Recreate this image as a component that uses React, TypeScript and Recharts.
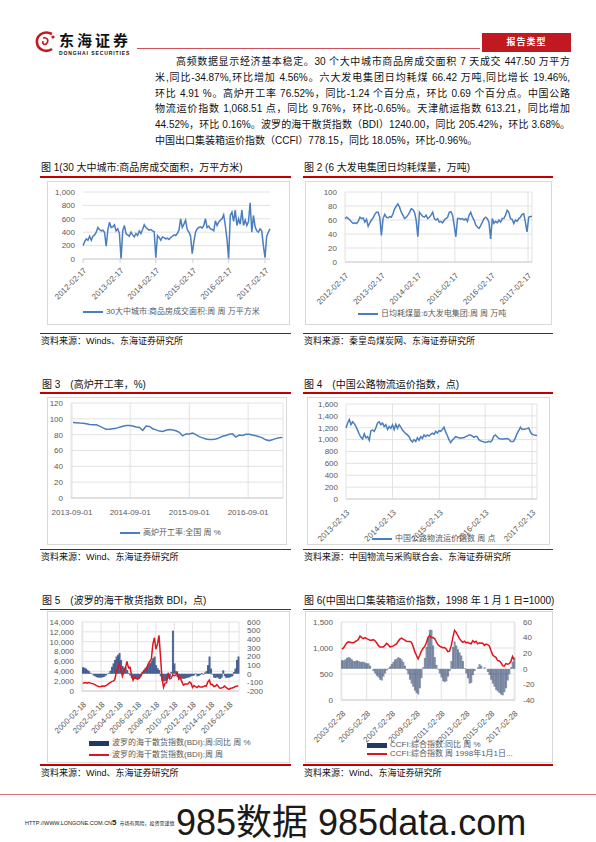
import React from 'react';
import { LineChart, Line, ComposedChart, Bar, XAxis, YAxis, CartesianGrid } from 'recharts';

const FONT = '"Liberation Sans", "Noto Sans CJK SC", sans-serif';
const AXIS_GRAY = '#595959';
const GRID = '#e2e2e2';
const BLUE = '#4a7ebf';
const RED = '#c00000';
const LINE_RED = '#e0141e';
const NAVY = '#203864';

// 图1 30大中城市商品房成交面积（万平方米），约每2.5周取一点
const houseTicks = [0, 22.4, 44, 66.4, 88, 110];
const houseTickLabels = ['2012-02-17', '2013-02-17', '2014-02-17', '2015-02-17', '2016-02-17', '2017-02-17'];
const houseArea = [
  200, 260, 300, 280, 340, 280, 340, 360, 400, 470, 440, 420, 430, 400, 190, 430, 550, 470, 480, 510,
  420, 450, 380, 0, 420, 500, 380, 360, 340, 400, 360, 330, 380, 350, 420, 380, 440, 510, 470, 450,
  430, 440, 420, 410, 20, 350, 320, 280, 330, 320, 300, 310, 290, 320, 340, 360, 350, 380, 430, 600,
  470, 520, 580, 440, 400, 340, 80, 260, 400, 450, 470, 480, 460, 500, 600, 470, 490, 450, 440, 420,
  570, 500, 550, 580, 600, 660, 500, 300, 0, 650, 700, 560, 730, 500, 600, 520, 730, 500, 580, 500,
  560, 840, 400, 650, 480, 420, 400, 450, 420, 200, 20, 340, 400, 450,
];

// 图2 6大发电集团日均耗煤量（万吨）
const coalTicks = [0, 22, 44, 66.4, 88.4, 110.6];
const coalTickLabels = houseTickLabels;
const coalUse = [
  62, 64, 62, 60, 57, 55, 56, 55, 58, 64, 62, 63, 57, 61, 51, 56, 60, 63, 68, 71,
  71, 64, 38, 62, 68, 64, 63, 65, 64, 69, 76, 80, 83, 78, 71, 67, 62, 64, 67, 71,
  76, 75, 71, 60, 36, 71, 68, 65, 64, 67, 62, 64, 67, 71, 62, 60, 62, 57, 58, 56,
  60, 62, 64, 71, 72, 67, 52, 36, 62, 62, 61, 62, 60, 62, 58, 67, 71, 64, 60, 53,
  50, 48, 52, 57, 62, 64, 62, 57, 33, 62, 55, 58, 56, 60, 57, 62, 62, 67, 74, 71,
  62, 61, 55, 60, 58, 62, 64, 68, 69, 57, 43, 64, 65, 65,
];

// 图3 高炉开工率（%）
const furnaceTicks = [-0.3, 17.2, 35, 52.7];
const furnaceTickLabels = ['2013-09-01', '2014-09-01', '2015-09-01', '2016-09-01'];
const furnaceRate = [
  95.4, 95.2, 94.8, 94.5, 93.8, 92.8, 92.5, 92.5, 90.8, 88.5, 87, 87, 87.5, 88, 89.5, 90.5,
  91.5, 91.5, 91, 89.8, 89, 85.5, 91, 90.5, 87.5, 86, 84.5, 84, 85.5, 86.5, 86, 85,
  83, 78.5, 81, 81, 82, 80, 77.5, 76, 74.5, 74, 74, 74.5, 76, 78, 79, 80.5,
  81, 77, 79.5, 79, 80.5, 80.5, 79.5, 78.5, 77.5, 76, 73.5, 72.5, 73.5, 75, 76, 76.5,
];

// 图4 中国公路物流运价指数（点）
const truckTicks = [0, 28, 56.2, 83.8, 112];
const truckTickLabels = ['2013-02-13', '2014-02-13', '2015-02-13', '2016-02-13', '2017-02-13'];
const truckIndex = [
  1196, 1280, 1340, 1252, 1300, 1270, 1220, 1160, 1090, 1040, 1010, 1100, 1030, 1050, 990, 1150,
  1160, 1140, 1200, 1280, 1300, 1250, 1280, 1220, 1250, 1170, 1220, 1190, 1250, 1170, 1260, 1190,
  1250, 1210, 1160, 1130, 1100, 1080, 1050, 990, 960, 1000, 970, 1030, 990, 1050, 1020, 1080,
  1050, 1080, 1060, 1090, 1110, 1090, 1140, 1110, 1150, 1140, 1170, 1210, 1130, 1070, 1000, 950,
  990, 1020, 1050, 1040, 1030, 1025, 1030, 1030, 1050, 1060, 1080, 1080, 1060, 1040, 1055, 1050,
  1000, 980, 970, 960, 955, 960, 970, 960, 990, 1060, 1080, 1050, 1020, 1010, 1010, 1010,
  1015, 1020, 1010, 975, 965, 975, 1030, 1100, 1150, 1210, 1170, 1175, 1180, 1185, 1195, 1130,
  1090, 1080, 1075, 1068,
];

// 图5 BDI，双月取点 2000-02 ~ 2017-02
const bdiTicks = [0, 12, 24, 36, 48, 60, 72, 84, 96];
const bdiTickLabels = ['2000-02-18', '2002-02-18', '2004-02-18', '2006-02-18', '2008-02-18', '2010-02-18', '2012-02-18', '2014-02-18', '2016-02-18'];
const bdiLevel = [
  1550, 1650, 1650, 1600, 1700, 1600, 1500, 1450, 1300, 1100, 950, 880,
  900, 1000, 950, 1050, 1250, 1500, 1700, 1900, 2000, 2300, 3800, 4700,
  5600, 4300, 3000, 4000, 4700, 6000, 4700, 4800, 3200, 2200, 2800, 2500,
  2400, 2600, 3000, 3600, 4000, 4300, 4600, 5500, 6000, 6500, 9500, 10800,
  8500, 9500, 11300, 7000, 2500, 750, 1600, 1700, 3700, 2500, 2600, 3300,
  3100, 3200, 3700, 2400, 2700, 1900, 1200, 1400, 1400, 1400, 1800, 1600,
  700, 1100, 900, 700, 1000, 800, 800, 850, 1050, 1000, 1800, 2200,
  1300, 1300, 900, 1000, 1300, 900, 550, 600, 750, 1000, 750, 500,
  320, 550, 600, 700, 900, 950, 1100,
];
const bdiYoy = [
  75, 70, 60, 45, 30, 10, -5, -20, -30, -40, -45, -45,
  -45, -40, -35, -20, -5, 10, 35, 80, 120, 160, 200, 220,
  240, 160, 90, 70, 75, 45, 10, -20, -50, -65, -60, -60,
  -60, -50, -30, 20, 45, 70, 85, 104, 123, 150, 180, 200,
  100, 65, 45, -30, -80, -90, -85, -75, -55, -40, 20, 500,
  120, 30, -40, -50, -50, -55, -60, -55, -50, -45, -40, -30,
  -25, -20, 5, -30, -25, -15, 10, -10, 15, 30, 100, 200,
  60, -10, -45, -50, -40, -55, -60, -45, 40, -30, -50, -45,
  -45, -35, -30, 20, 60, 160, 200,
];

// 图6 CCFI，约每7周取点 2003-02 ~ 2017-02
const ccfiTicks = [0, 15, 30, 45, 60, 75, 90, 104];
const ccfiTickLabels = ['2003-02-28', '2005-02-28', '2007-02-28', '2009-02-28', '2011-02-28', '2013-02-28', '2015-02-28', '2017-02-28'];
const ccfiLevel = [
  979, 1000, 1050, 1100, 1120, 1110, 1100, 1100, 1120, 1140, 1165, 1230, 1200, 1180, 1200,
  1180, 1165, 1150, 1150, 1160, 1140, 1100, 1050, 1020, 1018, 1018, 1050, 1090, 1060, 1020,
  1030, 1040, 1060, 1080, 1130, 1170, 1190, 1170, 1150, 1130, 1127, 1127, 1110, 1030, 930,
  860, 790, 860, 940, 990, 1030, 1100, 1200, 1240, 1200, 1200, 1180, 1120, 1060, 1035,
  1020, 1005, 1010, 980, 930, 940, 1040, 1200, 1340, 1300, 1240, 1180, 1140, 1110, 1130,
  1100, 1110, 1090, 1080, 1140, 1110, 1130, 1080, 1100, 1090, 1095, 1050, 1075, 1065, 1040,
  950, 870, 840, 820, 760, 750, 720, 660, 650, 700, 690, 700, 740, 840, 780,
];
const ccfiYoy = [
  11, 11, 12, 14, 15, 14, 12, 10, 10, 11, 10, 9, 9, 9, 8,
  7, 7, 4, 0, -3, -6, -9, -11, -14, -15, -10, -6, -2, 1, 3,
  6, 9, 12, 13, 15, 14, 12, 9, 4, -2, -7, -14, -19, -23, -28,
  -31, -33, -25, -12, 2, 14, 28, 40, 50, 50, 30, 15, 5, -1, -6,
  -11, -16, -17, -16, -10, -3, 10, 28, 35, 30, 25, 21, 17, 10, 1,
  -6, -12, -19, -18, -8, -3, 0, 2, 6, 4, 0, 2, 0, -4, -8,
  -14, -19, -23, -27, -29, -31, -33, -34, -30, -25, -15, -7, 2, 9, 14,
];

const textLines = [
  '高频数据显示经济基本稳定。30 个大中城市商品房成交面积 7 天成交 447.50 万平方',
  '米,同比-34.87%,环比增加 4.56%。六大发电集团日均耗煤 66.42 万吨,同比增长 19.46%,',
  '环比 4.91 %。高炉开工率 76.52%，同比-1.24 个百分点，环比 0.69 个百分点。中国公路',
  '物流运价指数 1,068.51 点，同比 9.76%，环比-0.65%。天津航运指数 613.21，同比增加',
  '44.52%，环比 0.16%。波罗的海干散货指数（BDI）1240.00，同比 205.42%，环比 3.68%。',
  '中国出口集装箱运价指数（CCFI）778.15，同比 18.05%，环比-0.96%。',
];

const toRows = (vals: number[]) => vals.map((v, i) => ({ i, v }));
const fmt = (v: number) => v.toLocaleString('en-US');

const makeTick = (ticks: number[], labels: string[], rotate: boolean) => (props: any) => {
  const { x, y, payload } = props;
  const k = ticks.indexOf(payload.value);
  const label = k >= 0 ? labels[k] : '';
  if (!rotate) {
    return (
      <text x={x} y={y + 9} textAnchor="middle" fontSize={8} fill={AXIS_GRAY} fontFamily={FONT}>
        {label}
      </text>
    );
  }
  return (
    <text
      transform={`translate(${x + 2},${y + 4}) rotate(-45)`}
      textAnchor="end"
      dy="0.35em"
      fontSize={8}
      fill={AXIS_GRAY}
      fontFamily={FONT}
    >
      {label}
    </text>
  );
};

const abs = (left: number, top: number, extra: React.CSSProperties = {}): React.CSSProperties => ({
  position: 'absolute',
  left,
  top,
  ...extra,
});

const Frame = ({ left, top, width, height }: any) => (
  <div style={abs(left, top, { width, height, border: '1px solid #d9d9d9', boxSizing: 'border-box' })} />
);

const Rule = ({ left, top, width }: any) => (
  <div style={abs(left, top, { width, height: 1.5, background: RED })} />
);

const Caption = ({ left, top, children, size = 10 }: any) => (
  <div style={abs(left, top, { fontSize: size, lineHeight: '12px', color: '#111', whiteSpace: 'nowrap', fontFamily: FONT })}>
    {children}
  </div>
);

const LegendItem = ({ left, top, kind, color, label }: any) => (
  <div style={abs(left, top, { display: 'flex', alignItems: 'center', height: 10, whiteSpace: 'nowrap' })}>
    {kind === 'line' ? (
      <div style={{ width: 20, height: 2, background: color }} />
    ) : (
      <div style={{ width: 20, height: 5, background: color }} />
    )}
    <span style={{ marginLeft: 3, fontSize: 8, color: AXIS_GRAY, fontFamily: FONT, lineHeight: '10px' }}>{label}</span>
  </div>
);

const axisTick = { fontSize: 8, fill: AXIS_GRAY, fontFamily: FONT };

const App = () => {
  const houseData = toRows(houseArea);
  const coalData = toRows(coalUse);
  const furnaceData = toRows(furnaceRate);
  const truckData = toRows(truckIndex);
  const bdiData = bdiLevel.map((v, i) => ({ i, level: v, yoy: bdiYoy[i] }));
  const ccfiData = ccfiLevel.map((v, i) => ({ i, level: v, yoy: ccfiYoy[i] }));

  return (
    <div style={abs(0, 0, { width: 596, height: 842, background: '#fff', fontFamily: FONT, overflow: 'hidden' })}>
      {/* header */}
      <svg style={abs(34, 31)} width={24} height={22} viewBox="0 0 24 22">
        <path d="M18 3 C10 -1 2 4 3 12 C4 19 12 22 18 18" fill="none" stroke="#c8161d" strokeWidth={2.6} />
        <path d="M9 7 C13 6 15 9 13 12 C11 15 8 13 9 10" fill="none" stroke="#c8161d" strokeWidth={1.6} />
        <circle cx={19} cy={6} r={1.6} fill="#c8161d" />
      </svg>
      <div style={abs(59, 33, { fontSize: 15, fontWeight: 700, letterSpacing: 3, lineHeight: '15px', color: '#111' })}>东海证券</div>
      <div style={abs(59, 50, { fontSize: 5, fontWeight: 700, letterSpacing: 0.9, lineHeight: '6px', color: '#111' })}>DONGHAI SECURITIES</div>
      <div style={abs(137, 48, { width: 343, height: 1, background: '#d0505a' })} />
      <div
        style={abs(482, 33, {
          width: 89,
          height: 19,
          background: '#c01920',
          color: '#fff',
          fontSize: 9,
          fontWeight: 700,
          textAlign: 'center',
          lineHeight: '19px',
          letterSpacing: 1,
        })}
      >
        报告类型
      </div>

      {/* paragraph */}
      {textLines.map((t, k) => (
        <div
          key={k}
          style={abs(k === 0 ? 176 : 155, 54 + k * 15.8, {
            width: k === 0 ? 394 : 415,
            fontSize: 10,
            lineHeight: '15.8px',
            color: '#111',
            whiteSpace: 'nowrap',
            textAlign: 'justify',
            textAlignLast: k === textLines.length - 1 ? 'left' : 'justify',
          })}
        >
          {t}
        </div>
      ))}

      {/* 图1 */}
      <Caption left={41} top={162}>图 1(30 大中城市:商品房成交面积，万平方米)</Caption>
      <Rule left={40} top={176} width={251} />
      <Frame left={47} top={181} width={243} height={144} />
      <div style={abs(47, 181)}>
        <LineChart width={243} height={144} data={houseData} margin={{ top: 11, right: 20, left: 0, bottom: 0 }}>
          <CartesianGrid vertical={false} stroke={GRID} />
          <XAxis
            dataKey="i"
            type="number"
            domain={[0, 113]}
            ticks={houseTicks}
            interval={0}
            height={66}
            tick={makeTick(houseTicks, houseTickLabels, true)}
            axisLine={{ stroke: '#d0d0d0' }}
            tickLine={{ stroke: '#d0d0d0' }}
            tickSize={4}
          />
          <YAxis
            domain={[0, 1000]}
            ticks={[0, 200, 400, 600, 800, 1000]}
            interval={0}
            width={36}
            axisLine={false}
            tickLine={false}
            tick={axisTick}
            tickFormatter={fmt}
          />
          <Line dataKey="v" stroke={BLUE} strokeWidth={1.5} dot={false} isAnimationActive={false} />
        </LineChart>
      </div>
      <LegendItem left={83} top={307} kind="line" color={BLUE} label="30大中城市:商品房成交面积:周 周 万平方米" />
      <Rule left={40} top={332.5} width={251} />
      <Caption left={41} top={335} size={9}>资料来源：Winds、东海证券研究所</Caption>

      {/* 图2 */}
      <Caption left={304} top={162}>图 2 (6 大发电集团日均耗煤量，万吨)</Caption>
      <Rule left={303} top={176} width={250} />
      <Frame left={305} top={181} width={247} height={144} />
      <div style={abs(305, 181)}>
        <LineChart width={247} height={144} data={coalData} margin={{ top: 11, right: 20, left: 0, bottom: 0 }}>
          <CartesianGrid stroke={GRID} />
          <XAxis
            dataKey="i"
            type="number"
            domain={[0, 112.5]}
            ticks={coalTicks}
            interval={0}
            height={63}
            tick={makeTick(coalTicks, coalTickLabels, true)}
            axisLine={{ stroke: '#d0d0d0' }}
            tickLine={false}
          />
          <YAxis
            domain={[0, 100]}
            ticks={[0, 20, 40, 60, 80, 100]}
            interval={0}
            width={40}
            axisLine={false}
            tickLine={false}
            tick={axisTick}
          />
          <Line dataKey="v" stroke={BLUE} strokeWidth={1.5} dot={false} isAnimationActive={false} />
        </LineChart>
      </div>
      <LegendItem left={358} top={309} kind="line" color={BLUE} label="日均耗煤量:6大发电集团:周 周 万吨" />
      <Rule left={303} top={332.5} width={250} />
      <Caption left={304} top={335} size={9}>资料来源：秦皇岛煤炭网、东海证券研究所</Caption>

      {/* 图3 */}
      <Caption left={42} top={379}>图 3　(高炉开工率，%)</Caption>
      <Rule left={40} top={392} width={251} />
      <Frame left={47} top={397} width={240} height={148} />
      <div style={abs(47, 397)}>
        <LineChart width={240} height={148} data={furnaceData} margin={{ top: 6, right: 4, left: 0, bottom: 0 }}>
          <CartesianGrid stroke={GRID} />
          <XAxis
            dataKey="i"
            type="number"
            domain={[-0.6, 63.2]}
            ticks={furnaceTicks}
            interval={0}
            height={47}
            tick={makeTick(furnaceTicks, furnaceTickLabels, false)}
            axisLine={{ stroke: '#d0d0d0' }}
            tickLine={false}
          />
          <YAxis
            domain={[0, 120]}
            ticks={[0, 20, 40, 60, 80, 100, 120]}
            interval={0}
            width={24}
            axisLine={false}
            tickLine={false}
            tick={axisTick}
          />
          <Line dataKey="v" stroke={BLUE} strokeWidth={1.5} dot={false} isAnimationActive={false} />
        </LineChart>
      </div>
      <LegendItem left={120} top={528} kind="line" color={BLUE} label="高炉开工率:全国 周 %" />
      <Rule left={40} top={548.5} width={251} />
      <Caption left={41} top={551} size={9}>资料来源：Wind、东海证券研究所</Caption>

      {/* 图4 */}
      <Caption left={304} top={379}>图 4　(中国公路物流运价指数，点)</Caption>
      <Rule left={303} top={392} width={250} />
      <Frame left={307} top={397} width={243} height={148} />
      <div style={abs(307, 397)}>
        <LineChart width={243} height={148} data={truckData} margin={{ top: 7, right: 13, left: 0, bottom: 0 }}>
          <CartesianGrid stroke={GRID} />
          <XAxis
            dataKey="i"
            type="number"
            domain={[0, 115]}
            ticks={truckTicks}
            interval={0}
            height={46}
            tick={makeTick(truckTicks, truckTickLabels, true)}
            axisLine={{ stroke: '#d0d0d0' }}
            tickLine={false}
          />
          <YAxis
            domain={[0, 1600]}
            ticks={[0, 200, 400, 600, 800, 1000, 1200, 1400, 1600]}
            interval={0}
            width={39}
            axisLine={false}
            tickLine={false}
            tick={axisTick}
            tickFormatter={fmt}
          />
          <Line dataKey="v" stroke={BLUE} strokeWidth={1.5} dot={false} isAnimationActive={false} />
        </LineChart>
      </div>
      <LegendItem left={372} top={534} kind="line" color={BLUE} label="中国公路物流运价指数 周 点" />
      <Rule left={303} top={548.5} width={250} />
      <Caption left={304} top={551} size={9}>资料来源：中国物流与采购联合会、东海证券研究所</Caption>

      {/* 图5 */}
      <Caption left={42} top={595}>图 5　(波罗的海干散货指数 BDI，点)</Caption>
      <Rule left={40} top={608.5} width={251} />
      <Frame left={47} top={611} width={243} height={152} />
      <div style={abs(47, 611)}>
        <ComposedChart width={243} height={152} data={bdiData} margin={{ top: 11, right: 8, left: 0, bottom: 0 }} barCategoryGap={0}>
          <CartesianGrid stroke={GRID} yAxisId="left" />
          <XAxis
            dataKey="i"
            type="category"
            ticks={bdiTicks}
            interval={0}
            height={72}
            tick={makeTick(bdiTicks, bdiTickLabels, true)}
            axisLine={{ stroke: '#d0d0d0' }}
            tickLine={false}
          />
          <YAxis
            yAxisId="left"
            domain={[0, 14000]}
            ticks={[0, 2000, 4000, 6000, 8000, 10000, 12000, 14000]}
            interval={0}
            width={35}
            axisLine={false}
            tickLine={false}
            tick={axisTick}
            tickFormatter={fmt}
          />
          <YAxis
            yAxisId="right"
            orientation="right"
            domain={[-200, 600]}
            ticks={[-200, -100, 0, 100, 200, 300, 400, 500, 600]}
            interval={0}
            width={43}
            axisLine={false}
            tickLine={false}
            tick={axisTick}
          />
          <Bar yAxisId="right" dataKey="yoy" fill="#2f4c85" fillOpacity={0.85} isAnimationActive={false} />
          <Line yAxisId="left" dataKey="level" stroke={LINE_RED} strokeWidth={1.5} dot={false} isAnimationActive={false} />
        </ComposedChart>
      </div>
      <LegendItem left={89} top={738} kind="bar" color={NAVY} label="波罗的海干散货指数(BDI):周:同比 周 %" />
      <LegendItem left={89} top={750} kind="line" color={LINE_RED} label="波罗的海干散货指数(BDI):周 周" />
      <Rule left={40} top={764} width={251} />
      <Caption left={41} top={767} size={9}>资料来源：Wind、东海证券研究所</Caption>

      {/* 图6 */}
      <Caption left={304} top={595}>图 6(中国出口集装箱运价指数，1998 年 1 月 1 日=1000)</Caption>
      <Rule left={303} top={608.5} width={250} />
      <Frame left={305} top={611} width={248} height={152} />
      <div style={abs(305, 611)}>
        <ComposedChart width={248} height={152} data={ccfiData} margin={{ top: 11, right: 6, left: 0, bottom: 0 }} barCategoryGap={0}>
          <CartesianGrid stroke={GRID} yAxisId="left" />
          <XAxis
            dataKey="i"
            type="category"
            ticks={ccfiTicks}
            interval={0}
            height={63}
            tick={makeTick(ccfiTicks, ccfiTickLabels, true)}
            axisLine={{ stroke: '#d0d0d0' }}
            tickLine={false}
          />
          <YAxis
            yAxisId="left"
            domain={[0, 1500]}
            ticks={[0, 500, 1000, 1500]}
            interval={0}
            width={36}
            axisLine={false}
            tickLine={false}
            tick={axisTick}
            tickFormatter={fmt}
          />
          <YAxis
            yAxisId="right"
            orientation="right"
            domain={[-40, 60]}
            ticks={[-40, -20, 0, 20, 40, 60]}
            interval={0}
            width={32}
            axisLine={false}
            tickLine={false}
            tick={axisTick}
          />
          <Bar yAxisId="right" dataKey="yoy" fill={NAVY} fillOpacity={0.55} isAnimationActive={false} />
          <Line yAxisId="left" dataKey="level" stroke={LINE_RED} strokeWidth={1.5} dot={false} isAnimationActive={false} />
        </ComposedChart>
      </div>
      <LegendItem left={367} top={740} kind="bar" color={NAVY} label="CCFI:综合指数:同比 周 %" />
      <LegendItem left={367} top={749} kind="line" color={LINE_RED} label="CCFI:综合指数 周 1998年1月1日..." />
      <Rule left={303} top={764} width={250} />
      <Caption left={304} top={767} size={9}>资料来源：Wind、东海证券研究所</Caption>

      {/* footer */}
      <div style={abs(0, 794, { width: 596, height: 1, background: '#e07080' })} />
      <div style={abs(25, 819, { fontSize: 5.5, color: '#222', whiteSpace: 'nowrap', lineHeight: '8px' })}>
        HTTP://WWW.LONGONE.COM.CN<span style={{ fontSize: 8, fontWeight: 700 }}>5</span>
        <span style={{ fontSize: 5, marginLeft: 3 }}>市场有风险，投资需谨慎</span>
      </div>
      <div style={abs(176, 803, { fontSize: 36, lineHeight: '40px', color: '#1a1a1a', whiteSpace: 'nowrap' })}>
        985数据 985data.com
      </div>
    </div>
  );
};

export default App;
